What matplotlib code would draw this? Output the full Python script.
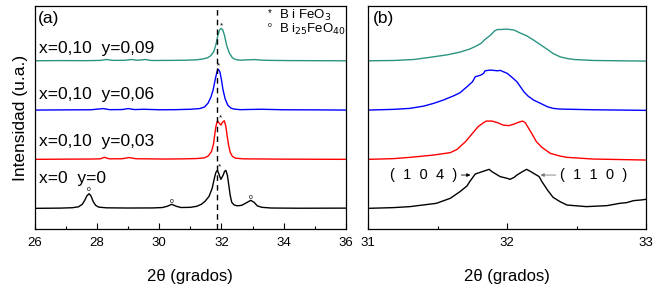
import matplotlib
matplotlib.use('Agg')
import matplotlib.pyplot as plt
from matplotlib.ticker import MultipleLocator

plt.rcParams['font.family'] = ['Liberation Sans', 'DejaVu Sans']

# data: 2theta values and intensities (arb. units, relative to each baseline)
labels = ["x=0  y=0", "x=0,10  y=0,03", "x=0,10  y=0,06", "x=0,10  y=0,09"]
colors = ["black", "#ff0000", "#0000ff", "#2a9482"]
offsets = [20.7, 69.7, 119, 168.3]

# panel (a), 26-36 deg
a_x0 = [26, 26.8, 27.2, 27.4, 27.52, 27.6, 27.67, 27.74, 27.8, 27.87, 27.95, 28.05, 28.3, 29, 29.8,
        30.1, 30.25, 30.4, 30.55, 30.7, 31.0, 31.2, 31.35, 31.47, 31.6, 31.7, 31.77, 31.82, 31.87,
        31.92, 31.98, 32.05, 32.1, 32.14, 32.19, 32.24, 32.28, 32.33, 32.4, 32.5, 32.65, 32.8,
        32.94, 33.05, 33.15, 33.3, 33.6, 34.5, 36]
a_y0 = [0, 0.2, 0.6, 1.5, 4, 8, 12.5, 14.6, 12.5, 7, 3, 1.2, 0.5, 0.3, 0.4,
        0.8, 2, 4, 2, 0.8, 1, 2, 4, 7, 12, 20, 30, 36, 38,
        34, 29, 33, 37, 38, 33, 22, 13, 6, 3.5, 2.5, 3, 5.5,
        8, 6, 2.5, 1, 0.3, 0.1, 0.2]
a_x1 = [26, 27, 27.8, 28.1, 28.23, 28.4, 28.8, 29.03, 29.25, 29.6, 30.2, 30.8, 31.2, 31.45, 31.58,
        31.68, 31.74, 31.78, 31.82, 31.87, 31.93, 31.98, 32.03, 32.09, 32.14, 32.18, 32.23, 32.28,
        32.35, 32.45, 32.7, 33.2, 34, 35, 36]
a_y1 = [0, 0.2, 0.3, 0.5, 2.0, 0.5, 0.6, 1.8, 0.6, 0.5, 0.3, 0.5, 0.8, 1.5, 3.5,
        8, 15, 24, 33, 38.6, 36, 34.3, 37, 38.6, 33, 24, 14, 7,
        3, 1.2, 0.5, 0.4, 0.2, 0.1, 0]
a_x2 = [26, 27, 27.8, 28.2, 28.4, 28.8, 29.0, 29.2, 29.5, 30, 30.5, 31.0, 31.3, 31.45, 31.57,
        31.66, 31.73, 31.8, 31.86, 31.9, 31.95, 32.0, 32.05, 32.12, 32.2, 32.3, 32.4, 32.6,
        32.9, 33.3, 34, 35, 36]
a_y2 = [0, 0.2, 0.3, 1.5, 0.4, 0.5, 1.5, 0.5, 0.8, 0.3, 0.4, 0.8, 1.5, 3, 7,
        13, 20, 31, 39, 40.7, 38, 30, 20, 11, 5, 2, 1, 0.4,
        0.6, 0.8, 0.3, 0.2, 0]
a_x3 = [26.0, 26.8, 27.6, 28.1, 28.3, 28.5, 28.9, 29.1, 29.3, 29.54, 29.75, 30.4, 30.9, 31.2,
        31.4, 31.55, 31.65, 31.75, 31.82, 31.88, 31.94, 31.99, 32.04, 32.1, 32.16, 32.25, 32.35,
        32.45, 32.6, 32.9, 33.1, 33.3, 33.6, 34.2, 35, 36]
a_y3 = [0, 0.2, 0.1, 0.4, 1.3, 0.4, 0.5, 1.3, 0.5, 1.3, 0.3, 0.4, 0.6, 1.0,
        1.8, 3, 5, 9, 16, 25, 31, 32.3, 31, 25, 16, 8, 3,
        1.3, 0.6, 1.0, 1.2, 0.6, 0.4, 0.2, 0.1, 0]

# panel (b), 31-33 deg
b_x0 = [31.0, 31.18, 31.3, 31.49, 31.59, 31.66, 31.71, 31.73, 31.77, 31.82, 31.87, 31.89, 31.91,
        31.95, 32.0, 32.02, 32.05, 32.07, 32.11, 32.14, 32.17, 32.19, 32.23, 32.25, 32.29, 32.33,
        32.38, 32.43, 32.57, 32.72, 32.77, 32.81, 32.86, 32.91, 32.96, 33.0]
b_y0 = [0, 0.7, 1.7, 5, 10, 16.7, 22.3, 26.7, 34.3, 36.7, 39, 36.7, 35,
        31.7, 30, 29, 31, 33.3, 36.7, 39, 36.7, 35, 31.7, 26.7, 18.3, 11,
        6.7, 3.3, 1.7, 2.7, 4, 5, 5.7, 7.7, 8.3, 9]
b_x1 = [31.0, 31.18, 31.3, 31.47, 31.59, 31.64, 31.66, 31.70, 31.73, 31.77, 31.79, 31.83, 31.85,
        31.89, 31.93, 31.97, 32.01, 32.05, 32.08, 32.11, 32.13, 32.15, 32.19, 32.21, 32.25, 32.31,
        32.38, 32.43, 32.62, 33.0]
b_y1 = [0, 0.7, 2, 4.3, 6.7, 10, 12.7, 17.7, 22.7, 29.3, 32.7, 36.7, 38.3,
        38.3, 36.7, 34.3, 33.7, 35.3, 37, 38.3, 36.7, 32, 22.7, 17.7, 12, 6,
        3.3, 2, 0.3, -0.7]
b_x2 = [31.0, 31.18, 31.3, 31.40, 31.47, 31.54, 31.61, 31.66, 31.71, 31.75, 31.77, 31.81, 31.83,
        31.84, 31.88, 31.93, 31.95, 32.0, 32.03, 32.07, 32.12, 32.15, 32.19, 32.24, 32.29, 32.33,
        32.38, 32.62, 33.0]
b_y2 = [0, 0.7, 1.7, 4, 6.7, 10, 14, 17.3, 23.3, 28.3, 33.3, 35, 36.7,
        39.3, 40, 39.3, 39.7, 36.7, 33.3, 28.3, 18.3, 14, 10, 6.7, 3.3, 1.7,
        1, 0.3, -0.3]
b_x3 = [31.0, 31.18, 31.33, 31.42, 31.52, 31.57, 31.66, 31.73, 31.78, 31.81, 31.84, 31.88, 31.91,
        31.93, 31.95, 32.0, 32.05, 32.09, 32.14, 32.19, 32.24, 32.29, 32.33, 32.38, 32.43, 32.48,
        32.62, 33.0]
b_y3 = [0, 0.3, 1.3, 3, 5, 6, 8.7, 11.7, 15, 17.3, 21.3, 25.7, 30,
        31.3, 31.3, 31.7, 30.7, 28, 25, 20.7, 16, 11.3, 7.3, 4, 2.3, 1.3,
        0.3, -0.3]

a_xs = [a_x0, a_x1, a_x2, a_x3]
a_ys = [a_y0, a_y1, a_y2, a_y3]
b_xs = [b_x0, b_x1, b_x2, b_x3]
b_ys = [b_y0, b_y1, b_y2, b_y3]

# peak markers in panel (a)
star_x = [31.95, 31.97, 31.9, 32.0]
circle_x = [27.74, 30.4, 32.94]
circle_h = [19, 7, 11]
ref_line = 31.85

fig = plt.figure(figsize=(6.6, 2.91), dpi=100)
ax1 = fig.add_axes([0.053, 0.213, 0.471, 0.766])
ax2 = fig.add_axes([0.558, 0.213, 0.421, 0.766])

label_y = [51, 88, 135, 181]
for i in range(4):
    ax1.plot(a_xs[i], [v + offsets[i] for v in a_ys[i]], color=colors[i], lw=1)
    ax2.plot(b_xs[i], [v + offsets[i] for v in b_ys[i]], color=colors[i], lw=1)
    ax1.text(26.12, label_y[i], labels[i], fontsize=12.5, va='center', ha='left')

ax1.axvline(ref_line, color='black', ls='--', lw=1, dashes=(4, 3))

peak_h = [max(y) for y in a_ys]
for i in range(4):
    ax1.text(star_x[i], offsets[i] + peak_h[i] + 3, '*', fontsize=6, ha='center', va='center')
for cx, ch in zip(circle_x, circle_h):
    ax1.text(cx, offsets[0] + ch, 'o', fontsize=5, ha='center', va='center')

ax1.text(33.5, 216, '*', fontsize=7, ha='left', va='center')
ax1.text(33.85, 214, 'B i FeO$_3$', fontsize=9.5, ha='left', va='center')
ax1.text(33.5, 204, 'o', fontsize=5, ha='left', va='center')
ax1.text(33.85, 200, 'B i$_{25}$FeO$_{40}$', fontsize=9.5, ha='left', va='center')

ax1.text(26.1, 211, '(a)', fontsize=12.5, ha='left', va='center')
ax2.text(31.03, 211, '(b)', fontsize=12.5, ha='left', va='center')

ax2.annotate('', xy=(31.755, 54), xytext=(31.65, 54),
             arrowprops=dict(arrowstyle='-|>', color='black', lw=0.6, mutation_scale=5))
ax2.text(31.64, 54, '(  1  0  4  )', fontsize=10.5, ha='right', va='center')
ax2.annotate('', xy=(32.22, 54), xytext=(32.37, 54),
             arrowprops=dict(arrowstyle='-|>', color='#777777', lw=0.6, mutation_scale=5))
ax2.text(32.38, 54, '(  1  1  0  )', fontsize=10.5, ha='left', va='center')

ax1.set_xlim(26, 36)
ax2.set_xlim(31, 33)
for ax in (ax1, ax2):
    ax.set_ylim(0, 223)
    ax.set_yticks([])
    ax.tick_params(axis='x', direction='in', labelsize=9.5, length=4, width=0.8, pad=6)
    ax.tick_params(axis='x', which='minor', direction='in', length=2, width=0.8)
    ax.set_xlabel('2θ (grados)', fontsize=12, labelpad=14)
    for s in ax.spines.values():
        s.set_linewidth(0.9)
ax1.xaxis.set_major_locator(MultipleLocator(2))
ax1.xaxis.set_minor_locator(MultipleLocator(1))
ax2.xaxis.set_major_locator(MultipleLocator(1))
ax2.xaxis.set_minor_locator(MultipleLocator(0.5))
ax1.set_ylabel('Intensidad (u.a.)', fontsize=12.5, labelpad=5)

fig.savefig('out.png', dpi=100)
